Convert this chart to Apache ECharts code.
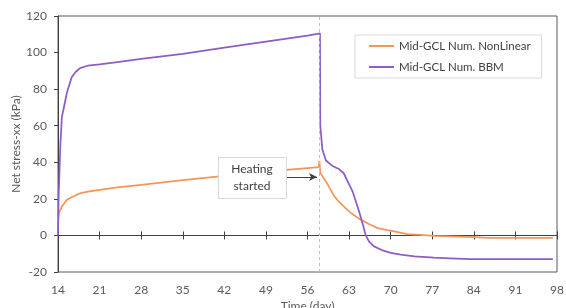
<!DOCTYPE html>
<html>
<head>
<meta charset="utf-8">
<script src="https://cdn.jsdelivr.net/npm/echarts@6.0.0/dist/echarts.min.js"></script>
<style>
  html, body { margin: 0; padding: 0; background: #fff; }
  #chart { width: 566px; height: 308px; }
</style>
</head>
<body>
<div id="chart"></div>
<script>
// time (day) / net stress-xx (kPa)
var nlDays = [14, 14.2, 14.65, 15.5, 16.5, 17.7, 19, 21, 24, 28, 35, 42, 49, 56, 57.9, 58, 58.15, 58.6, 59.3, 60.5, 61, 62.7, 63.3, 65, 65.3, 66.5, 67.8, 68.4, 70.6, 72.8, 75, 77.3, 80, 84.1, 86.3, 90, 97.3];
var nlValues = [9, 12.5, 15.8, 19.5, 21.3, 23, 24, 24.9, 26.3, 27.7, 30.3, 32.6, 34.9, 36.8, 37.3, 40.8, 34.5, 32, 28.5, 21.5, 19.5, 14, 12.3, 8.5, 7.6, 6, 4, 3.6, 2.2, 0.7, 0.3, -0.2, -0.5, -0.9, -1.4, -1.4, -1.4];

var bbmDays = [14, 14.1, 14.4, 14.66, 14.93, 15.5, 16.3, 17, 17.7, 19, 21, 24, 28, 35, 42, 49, 56, 58.1, 58.15, 58.5, 59.1, 60.2, 61.2, 62.1, 62.7, 63.6, 64.7, 65.4, 65.8, 66.4, 67.2, 68.5, 70, 71.7, 74, 77.3, 80, 83.5, 90, 97.3];
var bbmValues = [0, 20, 50, 65, 69, 78, 86.5, 89.5, 91.5, 92.8, 93.5, 94.8, 96.5, 99.3, 102.7, 106, 109.3, 110.5, 60, 47, 41, 38, 36.5, 34, 30, 24, 13, 5, 0, -3.5, -6, -8, -9.5, -10.5, -11.5, -12.2, -12.5, -12.9, -13, -13];

var xTicks = { min: 14, max: 98, step: 7 };
var yTicks = { min: -20, max: 120, step: 20 };
var heatingDay = 58;
var seriesNames = ['Mid-GCL Num. NonLinear', 'Mid-GCL Num. BBM'];

function zip(xs, ys) {
  return xs.map(function (x, i) { return [x, ys[i]]; });
}

var font = 'Lato, "Liberation Sans", sans-serif';
var axisGray = '#404040';
var textGray = '#595959';

var myChart = echarts.init(document.getElementById('chart'));

function zeroAxis(pos) {
  return {
    type: 'value',
    min: xTicks.min, max: xTicks.max, interval: xTicks.step,
    position: pos,
    axisLine: { show: true, onZero: true, onZeroAxisIndex: 0, lineStyle: { color: axisGray, width: 1 } },
    axisTick: { show: true, inside: false, length: 4, lineStyle: { color: axisGray, width: 1 } },
    axisLabel: { show: false },
    splitLine: { show: false }
  };
}

var option = {
  animation: false,
  backgroundColor: '#fff',
  grid: {
    left: 58, right: 9, top: 16, bottom: 36,
    show: true, borderColor: '#595959', borderWidth: 1,
    outerBoundsMode: 'none'
  },
  legend: {
    orient: 'vertical',
    left: 355, top: 35,
    itemWidth: 25, itemHeight: 14, itemGap: 9,
    padding: [5, 11, 5, 13],
    borderColor: '#d9d9d9', borderWidth: 1,
    backgroundColor: '#fff',
    itemStyle: { opacity: 0 },
    textStyle: { color: axisGray, fontSize: 11.5, fontFamily: font },
    data: seriesNames
  },
  xAxis: [
    {
      type: 'value',
      min: xTicks.min, max: xTicks.max, interval: xTicks.step,
      position: 'bottom',
      axisLine: { show: false, onZero: false },
      axisTick: { show: false },
      splitLine: { show: false },
      axisLabel: { margin: 12, color: textGray, fontSize: 12, fontFamily: font },
      name: 'Time (day)',
      nameLocation: 'middle',
      nameGap: 28,
      nameMoveOverlap: false,
      nameTextStyle: { color: textGray, fontSize: 12, fontFamily: font }
    },
    zeroAxis('top'),
    zeroAxis('bottom')
  ],
  yAxis: {
    type: 'value',
    min: yTicks.min, max: yTicks.max, interval: yTicks.step,
    axisLine: { show: true, onZero: false, lineStyle: { color: axisGray, width: 1 } },
    axisTick: { show: true, length: 4, lineStyle: { color: axisGray } },
    splitLine: { show: false },
    axisLabel: { margin: 11, color: textGray, fontSize: 12, fontFamily: font },
    name: 'Net stress-xx (kPa)',
    nameLocation: 'middle',
    nameGap: 36,
    nameMoveOverlap: false,
    nameTextStyle: { color: textGray, fontSize: 12, fontFamily: font }
  },
  series: [
    {
      name: seriesNames[0],
      type: 'line',
      data: zip(nlDays, nlValues),
      symbol: 'none',
      smooth: false,
      color: '#F4955A',
      lineStyle: { width: 1.75, color: '#F4955A' },
      z: 2,
      markLine: {
        silent: true,
        animation: false,
        symbol: ['none', 'none'],
        label: { show: false },
        data: [
          { xAxis: heatingDay, lineStyle: { color: '#bfbfbf', type: [3, 3], width: 1 } },
          [
            { coord: [52.5, 32], symbol: 'none' },
            { coord: [57.6, 32], symbol: 'arrow', symbolSize: [6, 8], lineStyle: { color: axisGray, width: 1, type: 'solid' } }
          ]
        ]
      }
    },
    {
      name: seriesNames[1],
      type: 'line',
      data: zip(bbmDays, bbmValues),
      symbol: 'none',
      smooth: false,
      color: '#8D5CC6',
      lineStyle: { width: 1.75, color: '#8D5CC6' },
      z: 3
    }
  ],
  graphic: [
    {
      type: 'rect', z: 100,
      shape: { x: 218.5, y: 157.5, width: 68, height: 41 },
      style: { fill: '#fff', stroke: '#d9d9d9', lineWidth: 1 }
    },
    {
      type: 'text', z: 101,
      x: 252, y: 178,
      style: {
        text: 'Heating\nstarted',
        fill: axisGray, fontSize: 12, fontFamily: font,
        align: 'center', verticalAlign: 'middle', lineHeight: 17
      }
    }
  ]
};

myChart.setOption(option);
</script>
</body>
</html>
